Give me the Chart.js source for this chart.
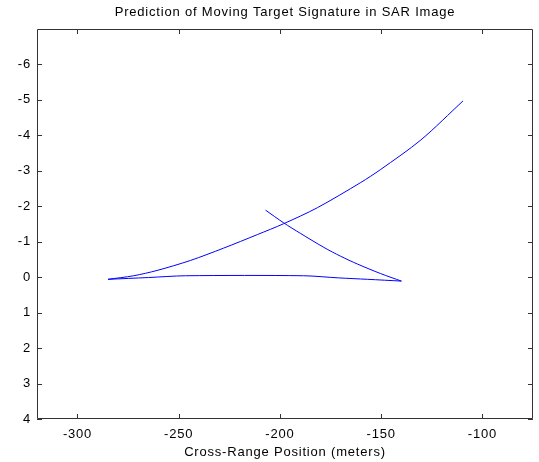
<!DOCTYPE html>
<html>
<head>
<meta charset="utf-8">
<script src="https://cdn.jsdelivr.net/npm/chart.js@4"></script>
<style>
  html, body { margin: 0; padding: 0; background: #fff; }
  #wrap { width: 539px; height: 462px; }
</style>
</head>
<body>
<div id="wrap"><canvas id="sarChart" width="539" height="462"></canvas></div>
<script>
const xTicks = [-300, -250, -200, -150, -100];
const yTicks = [-6, -5, -4, -3, -2, -1, 0, 1, 2, 3, 4];

// branch that starts near -207 and drops down to the right corner
const crossX = [-207.1, -198.1, -190.0, -178.3, -170.0, -161.7, -150.2, -140.0];
const crossY = [-1.89, -1.53, -1.24, -0.84, -0.59, -0.37, -0.10, 0.11];
// nearly flat base going back to the left
const baseX = [-140.0, -156.8, -171.0, -188.3, -246.7, -265.0, -284.9];
const baseY = [0.11, 0.06, 0.02, -0.04, -0.04, 0.01, 0.06];
// long rising branch
const riseX = [-284.9, -272.3, -260.7, -244.3, -227.8, -211.2, -198.1, -181.5, -160.1, -150.2, -130.4, -109.6];
const riseY = [0.06, -0.04, -0.19, -0.47, -0.82, -1.20, -1.51, -1.96, -2.67, -3.04, -3.87, -4.97];

function toPoints(xs, ys) {
  return xs.map((x, i) => ({ x: x, y: ys[i] }));
}

const fontFam = "'Liberation Sans', Arial, Helvetica, sans-serif";

function branch(name, xs, ys) {
  return {
    label: name,
    data: toPoints(xs, ys),
    showLine: true,
    borderColor: "rgb(0, 0, 255)",
    backgroundColor: "rgb(0, 0, 255)",
    borderWidth: 1,
    pointRadius: 0,
    tension: 0.3
  };
}

// windows-ish wide text spacing
const spacing = {
  id: "spacing",
  beforeUpdate(chart) { chart.ctx.letterSpacing = "0.8px"; },
  beforeDraw(chart) { chart.ctx.letterSpacing = "0.8px"; }
};

// matlab style box with ticks pointing inwards
const boxTicks = {
  id: "boxTicks",
  afterDraw(chart) {
    const c = chart.ctx, a = chart.chartArea;
    const xs = chart.scales.x, ys = chart.scales.y;
    const len = 5;
    c.save();
    c.strokeStyle = "#333";
    c.lineWidth = 1;
    c.beginPath();
    c.rect(a.left + 0.5, a.top + 0.5, a.right - a.left - 1, a.bottom - a.top - 1);
    xTicks.forEach(v => {
      const p = Math.round(xs.getPixelForValue(v)) + 0.5;
      c.moveTo(p, a.bottom); c.lineTo(p, a.bottom - len);
      c.moveTo(p, a.top); c.lineTo(p, a.top + len);
    });
    yTicks.forEach(v => {
      const p = Math.round(ys.getPixelForValue(v)) + 0.5;
      c.moveTo(a.left, p); c.lineTo(a.left + len, p);
      c.moveTo(a.right, p); c.lineTo(a.right - len, p);
    });
    c.stroke();
    c.restore();
  }
};

const ctx = document.getElementById("sarChart").getContext("2d");
const chart = new Chart(ctx, {
  type: "scatter",
  data: {
    datasets: [
      branch("cross", crossX, crossY),
      branch("base", baseX, baseY),
      branch("rise", riseX, riseY)
    ]
  },
  options: {
    responsive: false,
    animation: false,
    layout: { padding: { left: 0, right: 6, top: 0, bottom: 0 } },
    plugins: {
      legend: { display: false },
      tooltip: { enabled: false },
      title: {
        display: true,
        fullSize: false,
        text: "Prediction of Moving Target Signature in SAR Image",
        color: "#000",
        font: { family: fontFam, size: 13, weight: "normal", lineHeight: 1.2 },
        padding: { top: 5, bottom: 8.4 }
      }
    },
    scales: {
      x: {
        type: "linear",
        min: -320,
        max: -75,
        afterBuildTicks: s => { s.ticks = xTicks.map(v => ({ value: v })); },
        afterFit: s => { s.height = 43; },
        grid: { display: false, drawTicks: false },
        border: { display: false },
        ticks: {
          color: "#000",
          padding: 8,
          maxRotation: 0,
          font: { family: fontFam, size: 13 }
        },
        title: {
          display: true,
          text: "Cross-Range Position (meters)",
          color: "#000",
          font: { family: fontFam, size: 13, lineHeight: 1.2 },
          padding: { top: 0, bottom: 2 }
        }
      },
      y: {
        type: "linear",
        reverse: true,
        min: -7,
        max: 4,
        afterBuildTicks: s => { s.ticks = yTicks.map(v => ({ value: v })); },
        afterFit: s => { s.width = 37; },
        grid: { display: false, drawTicks: false },
        border: { display: false },
        ticks: {
          color: "#000",
          padding: 6,
          callback: v => String(v),
          font: { family: fontFam, size: 13 }
        }
      }
    }
  },
  plugins: [spacing, boxTicks]
});
</script>
</body>
</html>
